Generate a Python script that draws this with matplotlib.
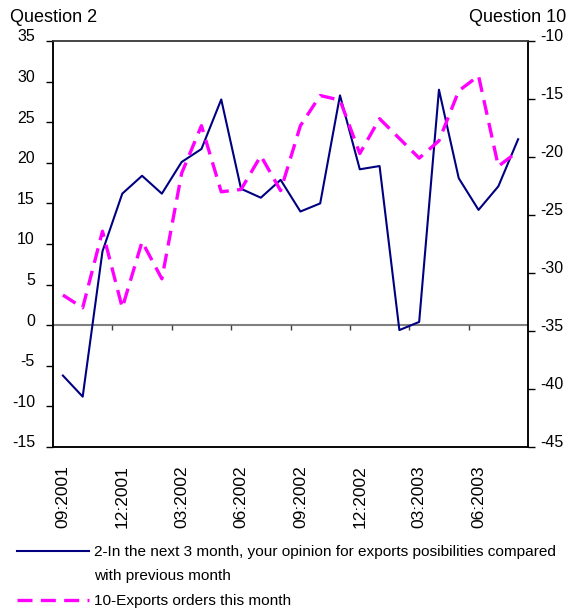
import matplotlib.pyplot as plt
import matplotlib.transforms as mtransforms
from matplotlib.lines import Line2D

plt.rcParams['font.family'] = ['Liberation Sans', 'DejaVu Sans']
plt.rcParams['axes.unicode_minus'] = False

# 24 monthly points, 09:2001 .. 08:2003
months = ['09:2001', '10:2001', '11:2001', '12:2001', '01:2002', '02:2002',
          '03:2002', '04:2002', '05:2002', '06:2002', '07:2002', '08:2002',
          '09:2002', '10:2002', '11:2002', '12:2002', '01:2003', '02:2003',
          '03:2003', '04:2003', '05:2003', '06:2003', '07:2003', '08:2003']
tick_labels = months[::3]

# question 2 (left axis)
q2 = [-6.2, -8.8, 9.1, 16.2, 18.4, 16.2, 20.1, 21.7, 27.8, 16.8, 15.7, 17.9,
      14.0, 15.0, 28.3, 19.2, 19.6, -0.6, 0.4, 29.0, 18.1, 14.2, 17.1, 22.9]
# question 10 (right axis)
q10 = [-31.9, -33.0, -26.4, -33.0, -27.3, -30.5, -21.4, -17.3, -23.0, -22.8,
       -19.9, -22.9, -17.3, -14.7, -15.1, -19.7, -16.7, -18.4, -20.1, -18.6,
       -14.3, -13.0, -20.8, -19.5]

label2 = '2-In the next 3 month, your opinion for exports posibilities compared'
label2b = 'with previous month'
label10 = '10-Exports orders this month'

x = list(range(len(months)))

fig = plt.figure(figsize=(5.73, 6.09), dpi=100)
ax = fig.add_axes([0.0925, 0.266, 0.829, 0.6667])
ax2 = ax.twinx()

ax.plot(x, q2, color='#000080', lw=1.5, zorder=3)
ax2.plot(x, q10, color='#ff00ff', lw=2.4, dashes=(4.5, 2.5))

ax.set_xlim(-0.5, len(months) - 0.5)
ax.set_ylim(-15, 35)
ax.set_yticks(range(-15, 36, 5))
ax2.set_ylim(-45, -10)
ax2.set_yticks(range(-45, -9, 5))

# category axis crossing at 0
ax.axhline(0, color='#808080', lw=1.5, zorder=1)
ax.vlines([i + 2.5 for i in x[::3][:-1]], -0.65, 0, color='#404040', lw=1)

ax.set_xticks(x[::3])
ax.set_xticklabels(tick_labels, rotation=90, fontsize=12.5)
ax.tick_params(axis='x', length=0, pad=13)
ax.tick_params(axis='y', direction='out', length=5, width=1, labelsize=11.5, pad=8)
ax2.tick_params(axis='y', direction='out', length=5, width=1, labelsize=11.5, pad=4)

for a in (ax, ax2):
    for s in a.spines.values():
        s.set_color('black')
        s.set_linewidth(1.1)
    a.spines['top'].set_color('#404040')

# excel puts the value labels a bit above the tick
up = mtransforms.ScaledTranslation(0, 4 / 72, fig.dpi_scale_trans)
for t in ax.get_yticklabels() + ax2.get_yticklabels():
    t.set_transform(t.get_transform() + up)

fig.text(10 / 573, 1 - 17 / 609, 'Question 2', fontsize=13, va='center', ha='left')
fig.text(566 / 573, 1 - 17 / 609, 'Question 10', fontsize=13, va='center', ha='right')

handles = [Line2D([], [], color='#000080', lw=1.5),
           Line2D([], [], color='none'),
           Line2D([], [], color='#ff00ff', lw=2.4, dashes=(4.5, 2.5))]
fig.legend(handles, [label2, label2b, label10], loc='upper left',
           bbox_to_anchor=(17 / 573, 1 - 545 / 609), frameon=False, fontsize=11.1,
           handlelength=4.7, handletextpad=0.3, labelspacing=0.68,
           borderpad=0, borderaxespad=0)

fig.savefig('out.png', dpi=100)
